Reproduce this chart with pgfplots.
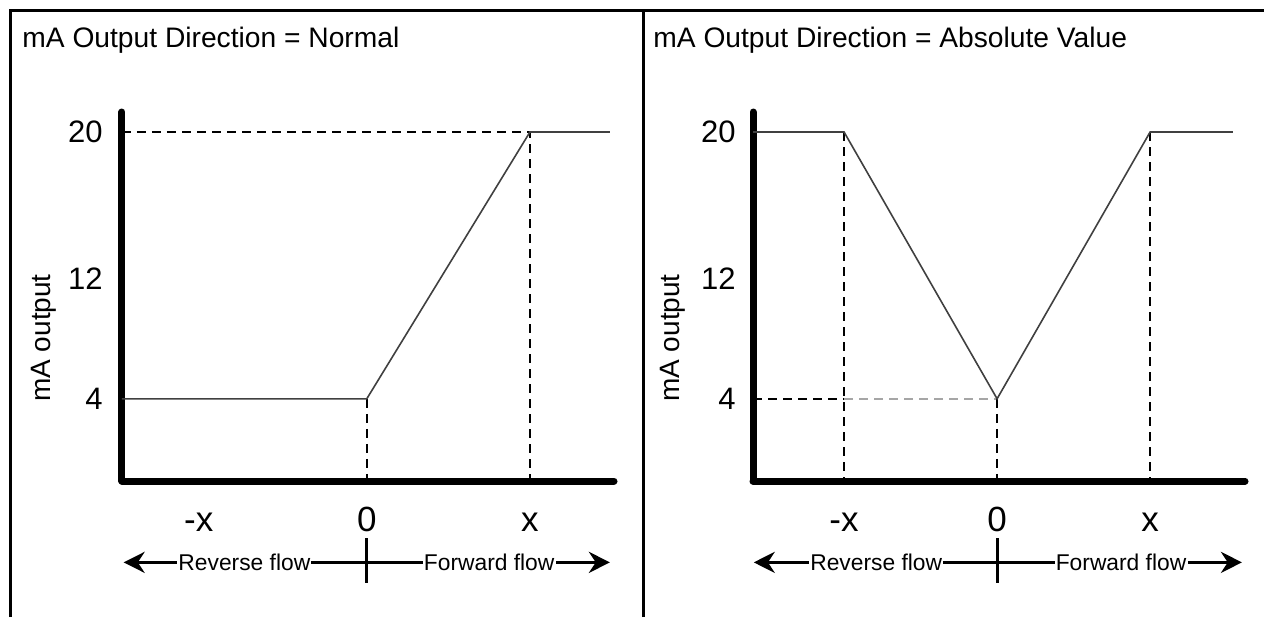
\documentclass[border=0pt]{standalone}
\usepackage{fontspec}
\setmainfont{Liberation Sans}
\usepackage{pgfplots}
\pgfplotsset{compat=1.18}
\usetikzlibrary{arrows.meta}

% 1 px of the reference = 0.5pt
\pgfplotsset{
  panel/.style={
    scale only axis, width=246pt, height=184.5pt,
    ymin=-0.93, ymax=21.2,
    axis lines=left,
    axis line style={-, line width=3.5pt, line cap=round},
    major tick length=0pt,
    ytick={4,11.2,20}, yticklabels={4,12,20},
    xticklabels={-x,0,x},
    /pgf/number format/assume math mode=true,
    yticklabel style={font=\fontsize{15.5}{18}\selectfont, anchor=east, inner sep=0pt},
    xticklabel style={font=\fontsize{17.5}{20}\selectfont, anchor=base, yshift=-25pt},
    ylabel={mA output},
    ylabel style={font=\fontsize{14}{16}\selectfont, anchor=center},
    clip=false,
  },
  curve/.style={black!75, line width=0.8pt, mark=none},
  guide/.style={black, line width=0.8pt, dash pattern=on 4.6pt off 2.9pt, mark=none},
}
\tikzset{
  flow/.style={line width=1.5pt, {Stealth[length=10.5pt,width=10.5pt]}-{Stealth[length=10.5pt,width=10.5pt]}},
  flowtext/.style={fill=white, inner sep=0.6pt, font=\fontsize{11.4}{13}\selectfont},
  paneltitle/.style={anchor=base west, inner sep=0pt, font=\fontsize{14.1}{16}\selectfont},
}

\begin{document}
\begin{tikzpicture}
\useasboundingbox (0,0) rectangle (632pt,308.5pt);
% outer frame and divider
\draw[line width=1.5pt] (5pt,0) -- (5pt,303pt) -- (632pt,303pt);
\draw[line width=1.5pt] (321.5pt,0) -- (321.5pt,303pt);

\node[paneltitle] at (11pt,284.5pt) {mA Output Direction = Normal};
\node[paneltitle] at (326.5pt,284.5pt) {mA Output Direction = Absolute Value};

% Normal
\begin{axis}[panel, at={(61pt,68pt)}, anchor=south west,
  xmin=-1.5, xmax=1.515, xtick={-1.03,0,1},
  yticklabel style={xshift=-9.5pt},
  ylabel style={at={(axis description cs:-0.16,0.3875)}}]
\addplot[guide] coordinates {(-1.5,20) (1,20) (1,-0.93)};
\addplot[guide] coordinates {(0,4) (0,-0.93)};
\addplot[curve] coordinates {(-1.5,4) (0,4) (1,20) (1.49,20)};
\draw[flow] (-1.49,-5.81) -- (1.49,-5.81);
\draw[line width=1.5pt] (0,-4.36) -- (0,-7.07);
\node[flowtext] at (-0.75,-5.81) {Reverse flow};
\node[flowtext] at (0.75,-5.81) {Forward flow};
\end{axis}

% Absolute Value
\begin{axis}[panel, at={(376.5pt,68pt)}, anchor=south west,
  xmin=-1.595, xmax=1.62, xtick={-1,0,1},
  yticklabel style={xshift=-8.5pt},
  ylabel style={at={(axis description cs:-0.1626,0.3875)}}]
\addplot[guide] coordinates {(-1.595,4) (-1,4)};
\addplot[guide, black!35, line width=1pt] coordinates {(-1,4) (0,4)};
\addplot[guide] coordinates {(-1,20) (-1,-0.93)};
\addplot[guide] coordinates {(0,4) (0,-0.93)};
\addplot[guide] coordinates {(1,20) (1,-0.93)};
\addplot[curve] coordinates {(-1.595,20) (-1,20) (0,4) (1,20) (1.54,20)};
\draw[flow] (-1.59,-5.81) -- (1.60,-5.81);
\draw[line width=1.5pt] (0,-4.36) -- (0,-7.07);
\node[flowtext] at (-0.79,-5.81) {Reverse flow};
\node[flowtext] at (0.81,-5.81) {Forward flow};
\end{axis}
\end{tikzpicture}
\end{document}
